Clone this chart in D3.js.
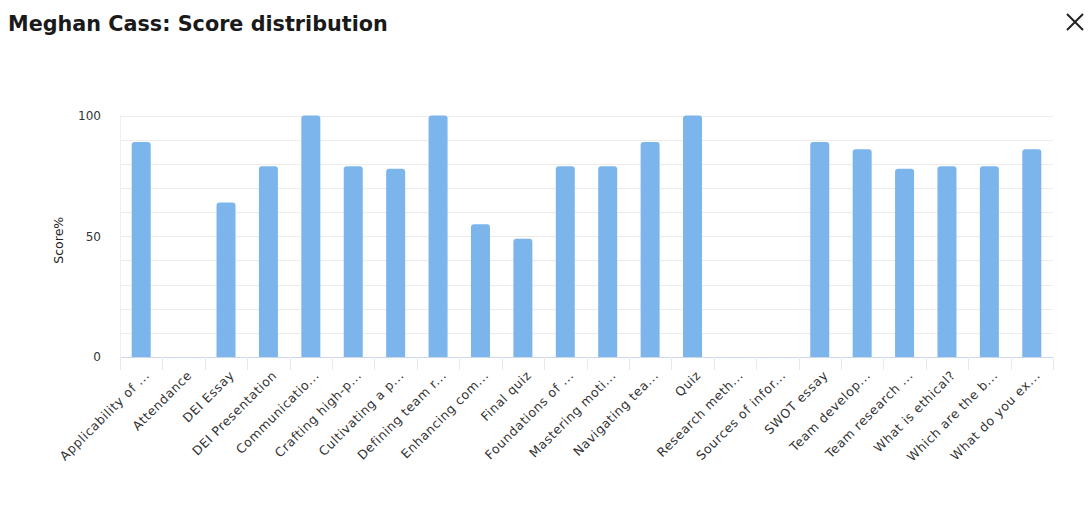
<!DOCTYPE html>
<html><head><meta charset="utf-8">
<script src="https://cdn.jsdelivr.net/npm/d3@7"></script>
<style>
body{margin:0;background:#fff;}
svg{display:block;}
text{font-family:"DejaVu Sans",sans-serif;}
</style></head>
<body>
<svg id="chart" width="1089" height="505"></svg>
<script>
const title = "Meghan Cass: Score distribution";
const yAxisTitle = "Score%";
const categories = ["Applicability of ...","Attendance","DEI Essay","DEI Presentation","Communicatio...","Crafting high-p...","Cultivating a p...","Defining team r...","Enhancing com...","Final quiz","Foundations of ...","Mastering moti...","Navigating tea...","Quiz","Research meth...","Sources of infor...","SWOT essay","Team develop...","Team research ...","What is ethical?","Which are the b...","What do you ex..."];
const scores = [89,0,64,79,100,79,78,100,55,49,79,79,89,100,0,0,89,86,78,79,79,86];
const yTicks = [0,50,100];
const yGrid = [0,10,20,30,40,50,60,70,80,90,100];

const svg = d3.select("#chart");
const m = {left:120, right:1053, top:115.5, bottom:357};

const x = d3.scaleBand().domain(categories).range([m.left, m.right]).paddingInner(0).paddingOuter(0);
const y = d3.scaleLinear().domain([0,100]).range([m.bottom, m.top]);

// title
const t = svg.append("text").attr("x",8).attr("y",31).attr("font-size",20).attr("font-weight",700)
  .attr("fill","#1a1a1a").text(title);
const tw = t.node().getComputedTextLength();
t.attr("font-size", 20*380/tw);

// close icon
const cx=1075, cy=22, s=8;
svg.append("path").attr("d",`M${cx-s},${cy-s}L${cx+s},${cy+s}M${cx+s},${cy-s}L${cx-s},${cy+s}`)
  .attr("stroke","#222").attr("stroke-width",2);

// grid
svg.append("g").selectAll("line").data(yGrid).join("line")
  .attr("x1",m.left).attr("x2",m.right)
  .attr("y1",d=>Math.round(y(d))+0.5).attr("y2",d=>Math.round(y(d))+0.5)
  .attr("stroke","#ececec").attr("stroke-width",1);
svg.append("line").attr("x1",m.left+0.5).attr("x2",m.left+0.5).attr("y1",m.top).attr("y2",m.bottom)
  .attr("stroke","#efefef");

// y axis labels
const yAxis = d3.axisLeft(y).tickValues(yTicks).tickSize(0).tickPadding(19);
const gy = svg.append("g").attr("transform",`translate(${m.left},0)`).call(yAxis);
gy.select(".domain").remove();
gy.selectAll("text").attr("font-size",12).attr("fill","#333").style("font-family","'DejaVu Sans',sans-serif");

// y title
svg.append("text").attr("transform",`translate(63,${(m.top+m.bottom)/2+4}) rotate(-90)`)
  .attr("text-anchor","middle").attr("font-size",12.5).attr("fill","#222").text(yAxisTitle);

// x axis
const gx = svg.append("g").attr("transform",`translate(0,${m.bottom})`);
gx.append("line").attr("x1",m.left).attr("x2",m.right).attr("y1",0.5).attr("y2",0.5).attr("stroke","#ccd6eb");
const tickPos = categories.map(c=>x(c)).concat([m.right]);
gx.selectAll("line.tk").data(tickPos).join("line").attr("class","tk")
  .attr("x1",d=>Math.round(d)+0.5).attr("x2",d=>Math.round(d)+0.5).attr("y1",0).attr("y2",13)
  .attr("stroke","#e6e9f0");
gx.selectAll("text").data(categories).join("text")
  .attr("transform",d=>`translate(${x(d)+x.bandwidth()/2+6},${16}) rotate(-45)`)
  .attr("text-anchor","end").attr("font-size",12.5).attr("letter-spacing","0.6px")
  .attr("fill","#333").attr("dy","0.35em").text(d=>d);

// bars
const bw = 19, r = 3;
svg.append("g").selectAll("path").data(categories.map((c,i)=>({c,v:scores[i]})).filter(d=>d.v>0)).join("path")
  .attr("fill","#7cb5ec")
  .attr("d",d=>{
    const x0 = x(d.c)+x.bandwidth()/2-bw/2, x1=x0+bw, y0=y(d.v), yb=y(0);
    return `M${x0},${yb}V${y0+r}Q${x0},${y0} ${x0+r},${y0}H${x1-r}Q${x1},${y0} ${x1},${y0+r}V${yb}Z`;
  });
</script>
</body></html>
